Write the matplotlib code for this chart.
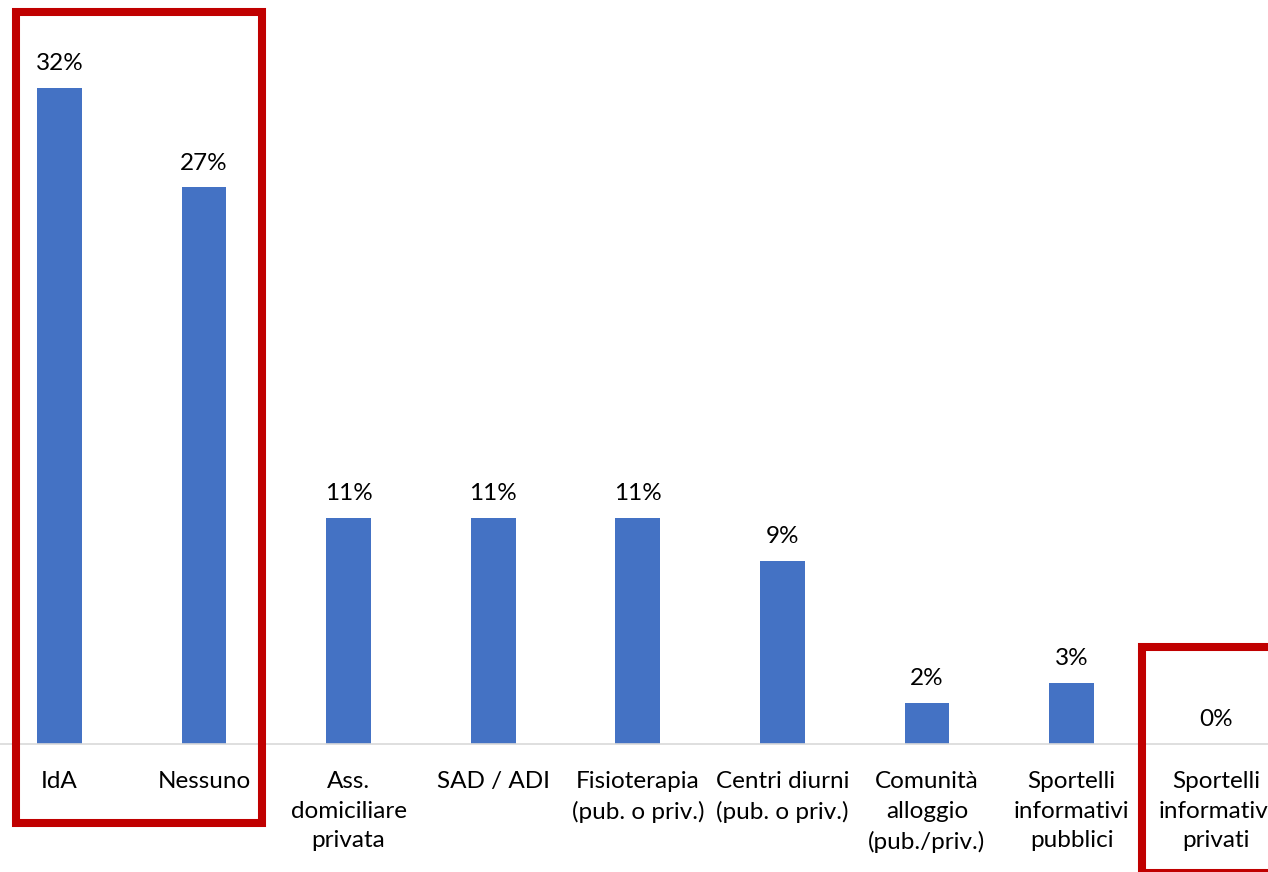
import matplotlib
matplotlib.use('Agg')
import matplotlib.pyplot as plt
from matplotlib.patches import Rectangle

# dati (%)
categorie = ['IdA', 'Nessuno', 'Ass.\ndomiciliare\nprivata', 'SAD / ADI',
             'Fisioterapia\n(pub. o priv.)', 'Centri diurni\n(pub. o priv.)',
             'Comunità\nalloggio\n(pub./priv.)', 'Sportelli\ninformativi\npubblici',
             'Sportelli\ninformativi\nprivati']
valori = [32.3, 27.4, 11.1, 11.1, 11.1, 9.0, 2.0, 3.0, 0.0]
etichette = [f'{v:.0f}%' for v in valori]

plt.rcParams['font.family'] = ['Lato', 'DejaVu Sans']

W, H = 1268, 872
fig = plt.figure(figsize=(W / 100, H / 100), dpi=100)

# assi posizionati in pixel: ultima categoria tagliata a destra
x_left, x_right = -12.9, 1288.5
y_base, y_top = 743.7, 0.0
ax = fig.add_axes([x_left / W, (H - y_base) / H,
                   (x_right - x_left) / W, (y_base - y_top) / H])

x = range(len(categorie))
ax.bar(x, valori, width=0.31, color='#4472C4', zorder=2)
ax.set_xlim(-0.5, len(categorie) - 0.5)
ax.set_ylim(0, y_base / 20.3)

for xi, v, t in zip(x, valori, etichette):
    ax.annotate(t, (xi, v), xytext=(0, 10), textcoords='offset points',
                ha='center', va='bottom', fontsize=17.5, color='black')

ax.set_xticks(list(x))
ax.set_xticklabels(categorie, fontsize=17.5, linespacing=1.52)
ax.tick_params(axis='x', length=0, pad=19.5)
ax.set_yticks([])
for s in ['top', 'right', 'left']:
    ax.spines[s].set_visible(False)
ax.spines['bottom'].set_color('#d9d9d9')
ax.spines['bottom'].set_linewidth(1.2)

# riquadri rossi di evidenziazione (coordinate pixel -> figura)
def riquadro(x0, y0, x1, y1):
    fig.patches.append(Rectangle((x0 / W, (H - y1) / H), (x1 - x0) / W, (y1 - y0) / H,
                                 transform=fig.transFigure, fill=False,
                                 edgecolor='#C00000', linewidth=5.8, clip_on=False))

riquadro(16, 12, 262, 823)
riquadro(1142, 646.5, 1300, 873)

fig.savefig('out.png', dpi=100)
